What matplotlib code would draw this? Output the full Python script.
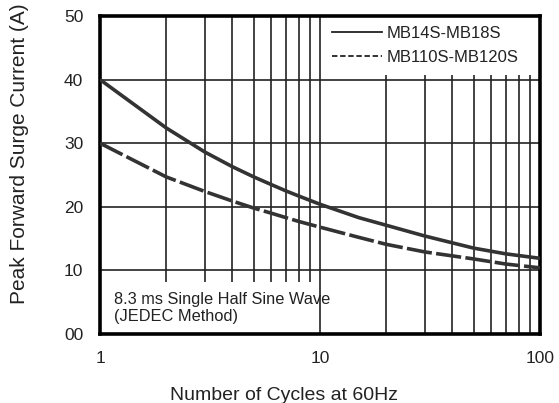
import matplotlib
matplotlib.use("Agg")
import matplotlib.pyplot as plt
from matplotlib.lines import Line2D
from matplotlib.patches import Rectangle
from matplotlib.ticker import FixedLocator, NullFormatter

plt.rcParams["font.family"] = ["Liberation Sans", "DejaVu Sans"]

# data
cycles = [1, 2, 3, 4, 5, 6, 7, 8, 10, 15, 20, 30, 50, 70, 100]
mb14_18 = [40, 32.4, 28.6, 26.3, 24.7, 23.5, 22.5, 21.7, 20.4, 18.3, 17.1, 15.4, 13.5, 12.6, 11.9]
mb110_120 = [30, 24.7, 22.4, 20.9, 19.8, 19.0, 18.3, 17.7, 16.8, 15.2, 14.1, 12.9, 11.8, 11.0, 10.4]
series_names = ["MB14S-MB18S", "MB110S-MB120S"]
xticks = [1, 10, 100]
xtick_labels = ["1", "10", "100"]
xminor = [2, 3, 4, 5, 6, 7, 8, 9, 20, 30, 40, 50, 60, 70, 80, 90]
yticks = [0, 10, 20, 30, 40, 50]
ytick_labels = ["00", "10", "20", "30", "40", "50"]

INK = "#333333"
TXT = "#222222"

fig = plt.figure(figsize=(5.59, 4.03), dpi=100)
ax = fig.add_axes([0.1789, 0.1712, 0.966 - 0.1789, 0.9603 - 0.1712])

ax.set_xscale("log")
ax.set_xlim(1, 100)
ax.set_ylim(0, 50)
ax.xaxis.set_major_locator(FixedLocator(xticks))
ax.xaxis.set_minor_locator(FixedLocator(xminor))
ax.xaxis.set_minor_formatter(NullFormatter())
ax.set_xticks(xticks)
ax.set_xticklabels(xtick_labels)
ax.set_yticks(yticks)
ax.set_yticklabels(ytick_labels)
ax.tick_params(which="both", length=0, labelsize=12.5, colors=TXT)
ax.tick_params(axis="y", pad=12)
ax.tick_params(axis="x", pad=12)

ax.set_axisbelow(True)
ax.grid(which="both", axis="x", color=TXT, linewidth=1.2)
ax.grid(which="major", axis="y", color=TXT, linewidth=1.2)
for s in ax.spines.values():
    s.set_linewidth(2.6)
    s.set_color("black")

# white boxes for the legend and the note, covering the grid
ax.add_patch(Rectangle((10.3, 40.8), 89, 9.0, facecolor="white", edgecolor="none", zorder=1))
ax.add_patch(Rectangle((1, 0.2), 8.8, 8.0, facecolor="white", edgecolor="none", zorder=1))

ax.plot(cycles, mb14_18, color=INK, linewidth=2.6, solid_capstyle="butt", zorder=3)
ax.plot(cycles, mb110_120, color=INK, linewidth=2.6, dashes=(7, 1.2), zorder=3)

handles = [Line2D([], [], color=TXT, linewidth=1.3),
           Line2D([], [], color=TXT, linewidth=1.3, dashes=(3, 1.5))]
ax.legend(handles, series_names, loc="upper left", frameon=False, fontsize=12,
          handlelength=3.0, handletextpad=0.3, labelspacing=0.5,
          bbox_to_anchor=(0.527, 0.968), borderaxespad=0, borderpad=0, labelcolor=TXT)

ax.text(0.032, 0.082, "8.3 ms Single Half Sine Wave\n(JEDEC Method)", transform=ax.transAxes,
        fontsize=11.8, color=TXT, va="center", ha="left", linespacing=1.22, zorder=4)

ax.set_xlabel("Number of Cycles at 60Hz", fontsize=14, color=TXT, va="center")
ax.xaxis.set_label_coords(0.419, -0.192)
ax.set_ylabel("Peak Forward Surge Current (A)", fontsize=15, color=TXT, va="center")
ax.yaxis.set_label_coords(-0.182, 0.566)

fig.savefig("out.png", dpi=100, facecolor="white")
